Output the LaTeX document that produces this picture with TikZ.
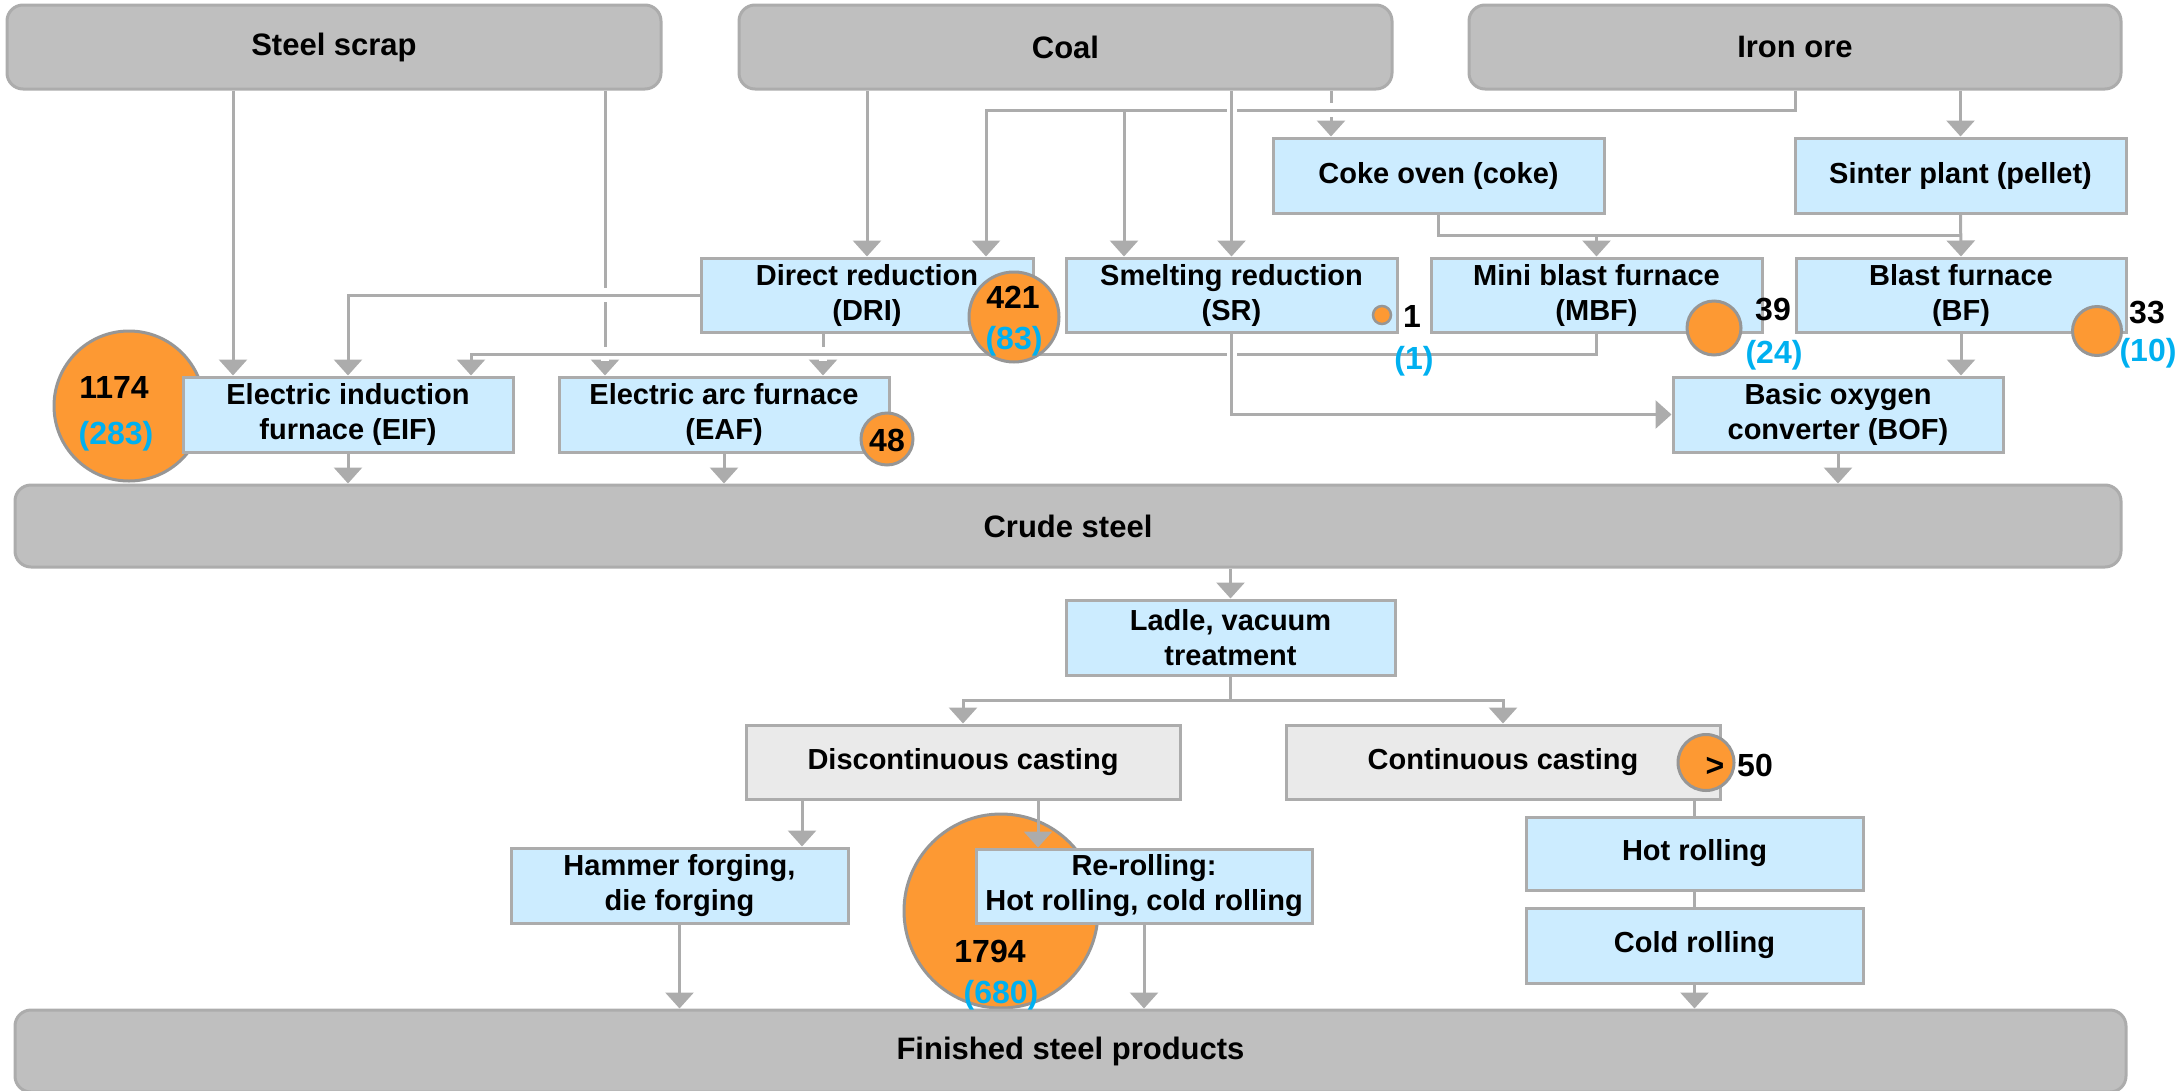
\documentclass[tikz,border=0pt]{standalone}
\usepackage{fontspec}
\setmainfont{Liberation Sans}
\usetikzlibrary{arrows.meta,calc}
\pgfdeclarelayer{bg}
\pgfsetlayers{bg,main}

\definecolor{lgray}{RGB}{172,172,172}
\definecolor{bigfill}{RGB}{191,191,191}
\definecolor{bluefill}{RGB}{204,236,255}
\definecolor{castfill}{RGB}{234,234,234}
\definecolor{orng}{RGB}{253,153,51}
\definecolor{numblue}{RGB}{0,176,240}
\definecolor{circedge}{RGB}{150,150,150}

\newcommand{\mygapv}[1]{\fill[white] ($(#1)+(-4,-7)$) rectangle ($(#1)+(4,7)$);}
\newcommand{\mygaph}[1]{\fill[white] ($(#1)+(-5,-4)$) rectangle ($(#1)+(5,4)$);}

\begin{document}
\begin{tikzpicture}[x=1pt,y=-1pt,
  bigbox/.style={draw=lgray, fill=bigfill, line width=3pt, rounded corners=16pt, inner sep=0pt, font=\fontsize{31}{37}\selectfont\bfseries},
  procbox/.style={draw=lgray, fill=bluefill, line width=3pt, inner sep=0pt, align=center, font=\fontsize{29}{35}\selectfont\bfseries},
  castbox/.style={procbox, fill=castfill},
  orangedot/.style={circle, draw=circedge, fill=orng, line width=3pt, inner sep=0pt},
  numtxt/.style={inner sep=0pt, font=\fontsize{32}{38}\selectfont\bfseries, text height=23pt, text depth=0pt},
  bnumtxt/.style={numtxt, text=numblue},
  conn/.style={draw=lgray, line width=3pt},
  arr/.style={conn, -{Triangle[width=28pt,length=16pt]}},
]
\useasboundingbox (0,0) rectangle (2184,1090);

% ---- raw materials
\node[bigbox, minimum width=654pt, minimum height=84pt] (scrap) at (334,47) {Steel scrap};
\node[bigbox, minimum width=653pt, minimum height=84pt] (coal) at (1065.5,47) {Coal};
\node[bigbox, minimum width=652pt, minimum height=84pt] (ore) at (1795,47) {Iron ore};

% ---- preparation
\node[procbox, minimum width=331pt, minimum height=75pt] (coke) at (1438.5,175.5) {Coke oven (coke)};
\node[procbox, minimum width=331pt, minimum height=75pt] (sinter) at (1960.5,175.5) {Sinter plant (pellet)};

% ---- reduction
\node[procbox, minimum width=332pt, minimum height=74pt] (dri) at (867,295) {Direct reduction\\(DRI)};
\node[procbox, minimum width=331pt, minimum height=74pt] (sr) at (1231.5,295) {Smelting reduction\\(SR)};
\node[procbox, minimum width=331pt, minimum height=74pt] (mbf) at (1596.5,295) {Mini blast furnace\\(MBF)};
\node[procbox, minimum width=330pt, minimum height=74pt] (bf) at (1961,295) {Blast furnace\\(BF)};

% ---- steelmaking
\node[orangedot, minimum size=150pt] (c1174) at (129,406) {};
\node[procbox, minimum width=330pt, minimum height=75pt] (eif) at (348,414.5) {Electric induction\\furnace (EIF)};
\node[procbox, minimum width=330pt, minimum height=75pt] (eaf) at (724,414.5) {Electric arc furnace\\(EAF)};
\node[procbox, minimum width=330pt, minimum height=75pt] (bof) at (1838,414.5) {Basic oxygen\\converter (BOF)};

\node[bigbox, minimum width=2106pt, minimum height=82pt] (crude) at (1068,526) {Crude steel};

\node[procbox, minimum width=329pt, minimum height=75pt] (ladle) at (1230.5,637.5) {Ladle, vacuum\\treatment};
\node[castbox, minimum width=434pt, minimum height=74pt] (disc) at (963,762) {Discontinuous casting};
\node[castbox, minimum width=434pt, minimum height=74pt] (cont) at (1503,762) {Continuous casting};

\node[procbox, minimum width=337pt, minimum height=75pt] (hammer) at (679.5,885.5) {Hammer forging,\\die forging};
\node[orangedot, minimum size=194pt] (c1794) at (1001,911) {};
\node[procbox, minimum width=336pt, minimum height=74pt] (reroll) at (1144,886) {Re-rolling:\\Hot rolling, cold rolling};
\node[procbox, minimum width=337pt, minimum height=73pt] (hot) at (1694.5,853.5) {Hot rolling};
\node[procbox, minimum width=337pt, minimum height=75pt] (cold) at (1694.5,945.5) {Cold rolling};

\node[bigbox, minimum width=2111pt, minimum height=82pt] (fin) at (1070.5,1051) {Finished steel products};

% ---- coordinates for connector positions
\coordinate (xa) at (233,0);
\coordinate (xb) at (605,0);
\coordinate (xc) at (1124,0);
\coordinate (xd) at (986,0);
\coordinate (xe) at (1331,0);
\coordinate (xdrieaf) at (823,0);
\coordinate (xeifmbf) at (471,0);
\coordinate (xham) at (802,0);
\coordinate (xrer) at (1038,0);
\coordinate (yore) at (0,110);
\coordinate (ycoke) at (0,235);
\coordinate (ymbf) at (0,354);
\coordinate (yladle) at (0,700);

\begin{pgfonlayer}{bg}
  % lines that are interrupted at crossings
  \draw[arr] (coal.south -| xe) -- (coke.north -| xe);
  \draw[arr] (scrap.south -| xb) -- (eaf.north -| xb);
  \draw[arr] (dri.south -| xdrieaf) -- (eaf.north -| xdrieaf);
  \mygapv{xe |- yore}
  \mygapv{xb |- dri.west}
  \mygapv{xb |- ymbf}
  \mygapv{xdrieaf |- ymbf}
  % lines crossing over them
  \draw[arr] (ore.south) -- (ore.south |- yore) -| (dri.north -| xd);
  \draw[arr] (xc |- yore) -- (sr.north -| xc);
  \draw[arr] (dri.west) -| (eif.north);
  \draw[arr] (mbf.south) -- (mbf.south |- ymbf) -| (eif.north -| xeifmbf);
  \mygaph{sr.north |- yore}
  \mygaph{sr.south |- ymbf}
  \draw[arr] (coal.south -| sr.north) -- (sr.north);
  \draw[arr] (sr.south) |- (bof.west);
  % remaining connectors
  \draw[arr] (scrap.south -| xa) -- (eif.north -| xa);
  \draw[arr] (coal.south -| dri.north) -- (dri.north);
  \draw[arr] (ore.south -| sinter.north) -- (sinter.north);
  \draw[conn] (coke.south) |- (sinter.south |- ycoke);
  \draw[arr] (mbf.north |- ycoke) -- (mbf.north);
  \draw[arr] (sinter.south) -- (bf.north);
  \draw[arr] (bf.south) -- (bof.north -| bf.south);
  \draw[arr] (eif.south) -- (crude.north -| eif.south);
  \draw[arr] (eaf.south) -- (crude.north -| eaf.south);
  \draw[arr] (bof.south) -- (crude.north -| bof.south);
  \draw[arr] (crude.south -| ladle.north) -- (ladle.north);
  \draw[conn] (ladle.south) -- (ladle.south |- yladle);
  \draw[arr] (ladle.south |- yladle) -| (disc.north);
  \draw[arr] (ladle.south |- yladle) -| (cont.north);
  \draw[arr] (disc.south -| xham) -- (hammer.north -| xham);
  \draw[arr] (hammer.south) -- (fin.north -| hammer.south);
  \draw[arr] (reroll.south) -- (fin.north -| reroll.south);
  \draw[conn] (cont.south -| hot.north) -- (hot.north);
  \draw[conn] (hot.south) -- (cold.north);
  \draw[arr] (cold.south) -- (fin.north -| cold.south);
\end{pgfonlayer}

% arrow over the large 1794 circle
\draw[arr] (disc.south -| xrer) -- (reroll.north -| xrer);

% ---- orange markers over boxes
\node[orangedot, minimum size=90pt] (c421) at (1014,317) {};
\node[orangedot, minimum size=52pt] (c48) at (887,439) {};
\node[orangedot, minimum size=18pt, line width=2.5pt] (c1) at (1382,315) {};
\node[orangedot, minimum size=54pt] (c39) at (1714,328) {};
\node[orangedot, minimum size=49pt] (c33) at (2097,331) {};
\node[orangedot, minimum size=56pt] (c50) at (1706,762.5) {};

% ---- numbers
\node[numtxt] (t1174) at (114,387) {1174};
\node[bnumtxt] (t283) at (116,433) {(283)};
\node[numtxt] (t421) at (1013,297) {421};
\node[bnumtxt] (t83) at (1014,338) {(83)};
\node[numtxt] (t48) at (887,440) {48};
\node[numtxt] (t1) at (1412,316) {1};
\node[bnumtxt] (tp1) at (1414,358) {(1)};
\node[numtxt] (t39) at (1773,309) {39};
\node[bnumtxt] (t24) at (1774,352) {(24)};
\node[numtxt] (t33) at (2147,312) {33};
\node[bnumtxt] (t10) at (2148,350) {(10)};
\node[numtxt] (tgt) at (1715,765) {>};
\node[numtxt] (t50) at (1755,765) {50};
\node[numtxt] (t1794) at (990,951) {1794};
\node[bnumtxt] (t680) at (1001,992) {(680)};
\end{tikzpicture}
\end{document}
